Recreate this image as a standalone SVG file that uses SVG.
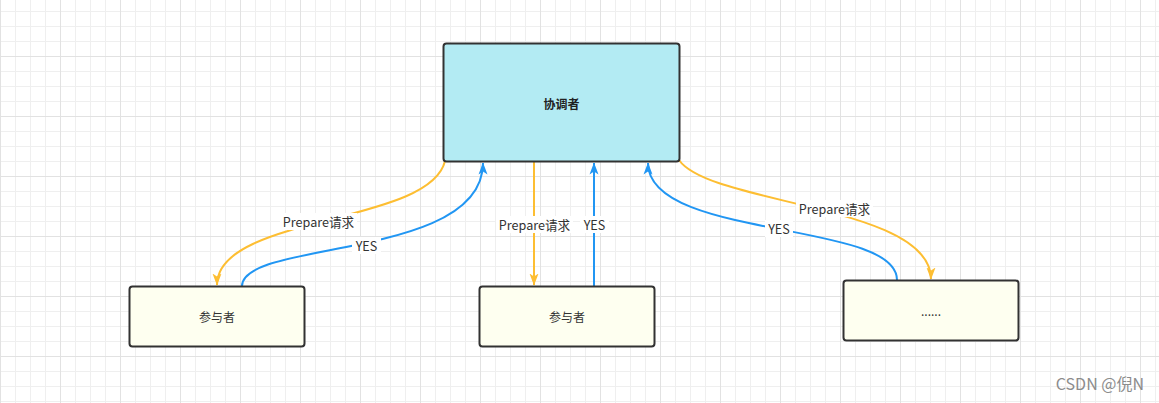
<svg xmlns="http://www.w3.org/2000/svg" width="1159" height="403" viewBox="0 0 1159 403">
<defs>
<pattern id="grid" patternUnits="userSpaceOnUse" x="0" y="-4" width="60" height="60">
<path d="M15.5 0V60M30.5 0V60M45.5 0V60M0 15.5H60M0 30.5H60M0 45.5H60" stroke="#efefef" stroke-width="1" fill="none"/>
<path d="M0.5 0V60M0 0.5H60" stroke="#e2e2e2" stroke-width="1" fill="none"/>
</pattern>
<marker id="ay" viewBox="0 0 12 10" refX="11.5" refY="5" markerWidth="12" markerHeight="10" markerUnits="userSpaceOnUse" orient="auto">
<path d="M0 0.5L12 5L0 9.5L3 5Z" fill="#fdbe32"/>
</marker>
<marker id="ab" viewBox="0 0 12 10" refX="11.5" refY="5" markerWidth="12" markerHeight="10" markerUnits="userSpaceOnUse" orient="auto">
<path d="M0 0.5L12 5L0 9.5L3 5Z" fill="#2196f3"/>
</marker>
</defs>
<style>
.node{stroke:#323232;stroke-width:2}
.y{fill:none;stroke:#fdbe32;stroke-width:2;marker-end:url(#ay)}
.b{fill:none;stroke:#2196f3;stroke-width:2;marker-end:url(#ab)}
.t{font-family:"Noto Sans CJK SC","Noto Sans",sans-serif;font-size:12px;fill:#333;text-anchor:middle;dominant-baseline:central}
.l{font-size:12.6px}
.lbg{fill:#ffffff}
</style>
<rect width="1159" height="403" fill="#ffffff"/>
<rect width="1159" height="403" fill="url(#grid)"/>
<g id="connectors">
<path class="y" d="M445 161 C430 225, 217 215, 217 285"/>
<path class="b" d="M242 286 C242 240, 483 260, 483 163"/>
<path class="y" d="M534 161 L534 285"/>
<path class="b" d="M594 286 L594 163"/>
<path class="y" d="M679 160 C710 205, 931 205, 931 279"/>
<path class="b" d="M897 280 C897 220, 648 240, 648 163"/>
<g id="labels">
<rect class="lbg" x="280" y="213" width="77" height="17"/>
<text class="t l" x="318.5" y="221.5">Prepare请求</text>
<rect class="lbg" x="352" y="237" width="29" height="17"/>
<text class="t l" x="366.5" y="245.5">YES</text>
<rect class="lbg" x="496" y="216" width="77" height="17"/>
<text class="t l" x="534.5" y="224.5">Prepare请求</text>
<rect class="lbg" x="580" y="216" width="29" height="17"/>
<text class="t l" x="594.5" y="224.5">YES</text>
<rect class="lbg" x="796" y="200" width="77" height="17"/>
<text class="t l" x="834.5" y="208.5">Prepare请求</text>
<rect class="lbg" x="765" y="220" width="28" height="17"/>
<text class="t l" x="779" y="228.5">YES</text>
</g>
</g>
<g id="coordinator">
<rect class="node" x="443.5" y="43.5" width="236" height="118" rx="3" fill="#b3ebf3"/>
<text class="t" x="561.5" y="103" style="font-weight:bold;fill:#222">协调者</text>
</g>
<g id="participant1">
<rect class="node" x="129.5" y="286.5" width="175" height="60" rx="3" fill="#fefff0"/>
<text class="t" x="217" y="316.5">参与者</text>
</g>
<g id="participant2">
<rect class="node" x="479.5" y="286.5" width="175" height="60" rx="3" fill="#fefff0"/>
<text class="t" x="567" y="316.5">参与者</text>
</g>
<g id="participant3">
<rect class="node" x="843.5" y="280.5" width="175" height="60" rx="3" fill="#fefff0"/>
<text class="t" x="931" y="310.5">......</text>
</g>
<text x="1144" y="390" style="font-family:'Noto Sans CJK SC','Noto Sans',sans-serif;font-size:16px;fill:#8c8c8c;text-anchor:end">CSDN @倪N</text>
</svg>
